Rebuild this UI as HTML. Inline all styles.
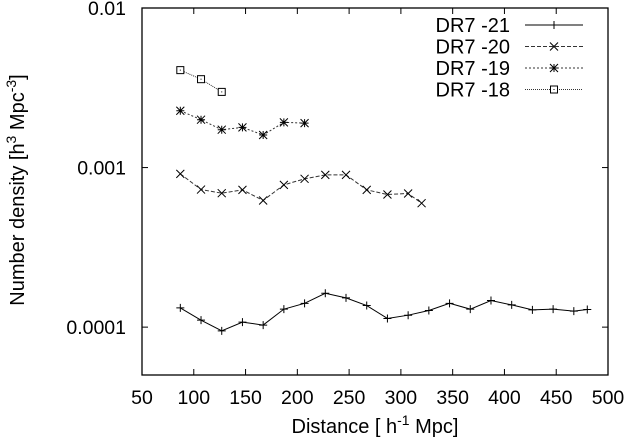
<!DOCTYPE html>
<html><head><meta charset="utf-8"><style>
body{margin:0;background:#fff}
svg text{font-family:"Liberation Sans",sans-serif;fill:#000}
</style></head><body>
<svg width="629" height="439" viewBox="0 0 629 439">
<g id="axes"></g>
<g id="series"></g>
<g id="legend"></g>
</svg>
<script>
const xTicks=[50,100,150,200,250,300,350,400,450,500];
const yTicks=[0.0001,0.001,0.01];
const yTickLabels=["0.0001","0.001","0.01"];
const seriesNames=["DR7 -21","DR7 -20","DR7 -19","DR7 -18"];
const x21=[87,107,127,147,167,187,207,227,247,267,287,307,327,347,367,387,407,427,447,467,480];
const y21=[1.32e-4,1.106e-4,0.948e-4,1.075e-4,1.03e-4,1.296e-4,1.41e-4,1.63e-4,1.525e-4,1.366e-4,1.133e-4,1.188e-4,1.271e-4,1.41e-4,1.296e-4,1.468e-4,1.378e-4,1.283e-4,1.296e-4,1.259e-4,1.29e-4];
const x20=[87,107,127,147,167,187,207,227,247,267,287,307,320];
const y20=[9.13e-4,7.28e-4,6.91e-4,7.25e-4,6.22e-4,7.79e-4,8.5e-4,9.0e-4,9.0e-4,7.25e-4,6.78e-4,6.88e-4,5.98e-4];
const x19=[87,107,127,147,167,187,207];
const y19=[2.27e-3,1.995e-3,1.727e-3,1.785e-3,1.6e-3,1.92e-3,1.9e-3];
const x18=[87,107,127];
const y18=[4.08e-3,3.58e-3,2.98e-3];

const L=142,R=608,T=8,B=375;
const sx=v=>L+(v-50)/450*(R-L);
const sy=v=>T+(-2-Math.log10(v))/2.3*(B-T);
const NS="http://www.w3.org/2000/svg";
function mk(tag,attrs,parent){const e=document.createElementNS(NS,tag);for(const k in attrs)e.setAttribute(k,attrs[k]);parent.appendChild(e);return e;}
const ax=document.getElementById('axes');
const fr=mk('rect',{x:L,y:T,width:R-L,height:B-T,fill:'none',stroke:'#000','stroke-width':1.3},ax);


xTicks.forEach(v=>{
  const x=sx(v);
  const t1=mk('line',{x1:x,x2:x,y1:B,y2:B-6,stroke:'#000'},ax);
  
  
  const t2=mk('line',{x1:x,x2:x,y1:T,y2:T+6,stroke:'#000'},ax);
  
  
  const tx=mk('text',{x:x,y:404,'text-anchor':'middle','font-size':19.5},ax);tx.textContent=v;
  
  
});
yTicks.forEach((v,i)=>{
  const y=sy(v);
  const t1=mk('line',{x1:L,x2:L+6,y1:y,y2:y,stroke:'#000'},ax);
  
  
  const t2=mk('line',{x1:R,x2:R-6,y1:y,y2:y,stroke:'#000'},ax);
  
  
  const tx=mk('text',{x:126,y:y+7,'text-anchor':'end','font-size':19.5},ax);tx.textContent=yTickLabels[i];
  
  
});
const xt=mk('text',{x:375,y:433,'text-anchor':'middle','font-size':20},ax);
xt.innerHTML='Distance [ h<tspan dy="-8" font-size="14">-1</tspan><tspan dy="8"> Mpc]</tspan>';


const yt=mk('text',{x:0,y:0,'text-anchor':'middle','font-size':20,transform:'translate(24,190) rotate(-90)'},ax);
yt.innerHTML='Number density [h<tspan dy="-8" font-size="14">3</tspan><tspan dy="8"> Mpc</tspan><tspan dy="-8" font-size="14">-3</tspan><tspan dy="8">]</tspan>';



function marker(g,type,x,y){
  if(type==='plus'){mk('path',{d:`M${x-4},${y}H${x+4}M${x},${y-4}V${y+4}`,stroke:'#000','stroke-width':1},g);}
  else if(type==='x'){mk('path',{d:`M${x-4},${y-4}L${x+4},${y+4}M${x-4},${y+4}L${x+4},${y-4}`,stroke:'#000','stroke-width':1},g);}
  else if(type==='star'){mk('path',{d:`M${x-4},${y-4}L${x+4},${y+4}M${x-4},${y+4}L${x+4},${y-4}M${x-4},${y}H${x+4}M${x},${y-4}V${y+4}`,stroke:'#000','stroke-width':1},g);}
  else {mk('rect',{x:x-3.5,y:y-3.5,width:7,height:7,fill:'#fff',stroke:'#000','stroke-width':1},g);mk('rect',{x:x-0.5,y:y-0.5,width:1,height:1,fill:'#000'},g);}
}
const specs=[
 {xs:x21,ys:y21,m:'plus',dash:'',c:'#000',name:'series-dr7-21'},
 {xs:x20,ys:y20,m:'x',dash:'4,2',c:'#333',name:'series-dr7-20'},
 {xs:x19,ys:y19,m:'star',dash:'2,2',c:'#333',name:'series-dr7-19'},
 {xs:x18,ys:y18,m:'box',dash:'1,1',c:'#333',name:'series-dr7-18'}];
const sg=document.getElementById('series'), lg=document.getElementById('legend');
specs.forEach((s,i)=>{
  const g=mk('g',{},sg);
  
  
  const pts=s.xs.map((x,j)=>sx(x)+','+sy(s.ys[j])).join(' ');
  const pl=mk('polyline',{points:pts,fill:'none',stroke:s.c,'stroke-width':1,'stroke-dasharray':s.dash},g);
  
  
  s.xs.forEach((x,j)=>marker(g,s.m,sx(x),sy(s.ys[j])));
  const y=25+i*21.5;
  const le=mk('g',{},lg);
  
  
  const tx=mk('text',{x:510,y:y+7,'text-anchor':'end','font-size':20},le);tx.textContent=seriesNames[i];
  mk('line',{x1:525,x2:583,y1:y,y2:y,stroke:s.c,'stroke-dasharray':s.dash},le);
  marker(le,s.m,554,y);
});
</script>
</body></html>
